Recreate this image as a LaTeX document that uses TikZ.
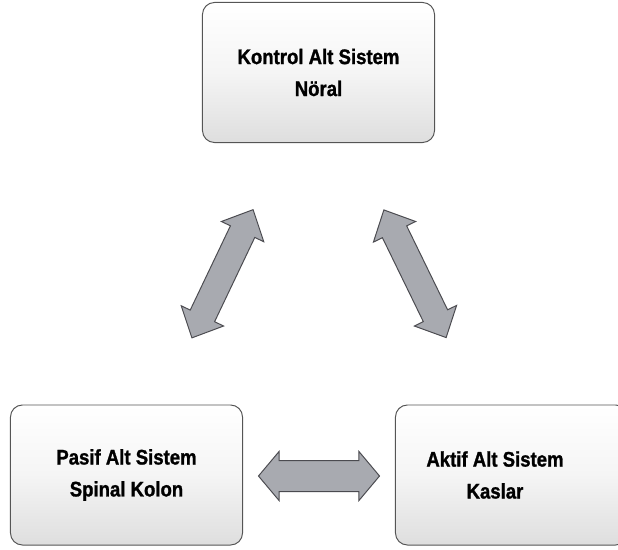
\documentclass[tikz,border=0pt]{standalone}
\usepackage{fontspec}
\setmainfont{Liberation Sans}[FakeStretch = 0.88, BoldFeatures = {FakeBold = 1.2}]
\usetikzlibrary{shapes.arrows, calc}

\definecolor{boxline}{RGB}{85,85,85}
\definecolor{boxbottom}{RGB}{222,222,222}
\definecolor{arrowfill}{RGB}{168,170,176}
\definecolor{arrowline}{RGB}{75,75,80}

\tikzset{
    sysbox/.style = {draw = boxline, line width = 0.7pt, rounded corners = 0.3cm,
        top color = white, bottom color = boxbottom, middle color = white!96!black,
        minimum width = 5.8cm, minimum height = 3.5cm, inner sep = 0pt},
    systext/.style = {align = center, font = \fontsize{15}{22.7}\selectfont\bfseries},
    slantarrow/.style = {double arrow, draw = arrowline, fill = arrowfill, line width = 0.7pt,
        inner xsep = 0pt, inner ysep = 0.325cm, minimum height = 3.55cm,
        double arrow head extend = 0.25cm, double arrow tip angle = 88},
    flatarrow/.style = {double arrow, draw = arrowline, fill = arrowfill, line width = 0.7pt,
        inner xsep = 0pt, inner ysep = 0.375cm, minimum height = 3.025cm,
        double arrow head extend = 0.225cm, double arrow tip angle = 100}
}

\begin{document}
\begin{tikzpicture}[x = 0.025cm, y = -0.025cm]
    \useasboundingbox (0, 0) rectangle (618, 549);

    \node[sysbox, systext] (kontrol) at (318.5, 72.5) {Kontrol Alt Sistem \\ Nöral};
    \node[sysbox, systext] (pasif) at (126.5, 475) {Pasif Alt Sistem \\ Spinal Kolon};
    \node[sysbox] (aktif) at (511.5, 475) {};
    \node[systext] (aktiftext) at (495, 475) {Aktif Alt Sistem \\ Kaslar};

    % arrows between the three subsystems
    \node[slantarrow, rotate = 64.5] (pasifkontrol) at ($(pasif)!0.5!(kontrol)$) {};
    \node[slantarrow, rotate = -64] (kontrolaktif) at ($(kontrol)!0.5!(aktif)$) {};
    \node[flatarrow] (pasifaktif) at ($(pasif)!0.5!(aktif) + (0, 1)$) {};
\end{tikzpicture}
\end{document}
